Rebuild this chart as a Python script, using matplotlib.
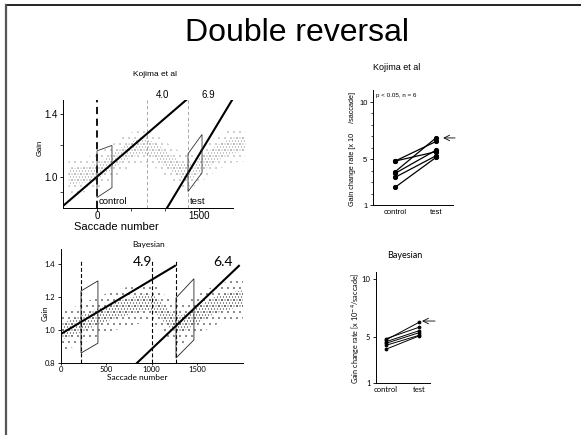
import numpy as np
import matplotlib as mpl
mpl.use('Agg')
from matplotlib import pyplot as plt
from matplotlib.lines import Line2D
from matplotlib.patches import Polygon

W, H = 581, 435
DPI = 72           # hatch tile = 72 px, so the stipple lands on whole pixels
S = 100 / DPI      # sizes below were picked for 100 dpi

# ---- Kojima et al, gain vs saccade number (top left)
koj_x = [-420, -200, 0, 200, 400, 650, 850, 1050, 1250, 1400, 1600, 1800, 2000, 2180]
koj_in_lo = [0.95, 0.96, 0.98, 1.04, 1.10, 1.15, 1.12, 1.05, 0.99, 0.99, 1.05, 1.11, 1.15, 1.16]
koj_in_hi = [1.05, 1.06, 1.08, 1.14, 1.20, 1.25, 1.22, 1.15, 1.09, 1.09, 1.15, 1.21, 1.25, 1.26]
koj_out_lo = [0.89, 0.90, 0.92, 0.98, 1.04, 1.09, 1.06, 0.99, 0.93, 0.93, 0.99, 1.05, 1.09, 1.10]
koj_out_hi = [1.11, 1.12, 1.14, 1.20, 1.26, 1.31, 1.28, 1.21, 1.15, 1.15, 1.21, 1.27, 1.31, 1.32]
koj_fit1 = ([-500, 1338], [0.813, 1.50])
koj_fit2 = ([1029, 2000], [0.80, 1.50])
koj_ctrl_box = ([0, 220, 220, 0], [0.867, 0.93, 1.20, 1.165])
koj_test_box = ([1338, 1544, 1544, 1338], [0.905, 1.025, 1.27, 1.146])
koj_rates = ['4.0', '6.9']

# ---- Bayesian, gain vs saccade number (bottom left)
bay_x = [0, 200, 400, 600, 800, 950, 1050, 1150, 1250, 1350, 1500, 1700, 1900, 2010]
bay_in_lo = [0.94, 0.98, 1.03, 1.07, 1.10, 1.12, 1.10, 1.04, 0.99, 0.99, 1.04, 1.10, 1.13, 1.14]
bay_in_hi = [1.04, 1.08, 1.13, 1.17, 1.20, 1.22, 1.20, 1.14, 1.09, 1.09, 1.14, 1.20, 1.23, 1.24]
bay_out_lo = [0.87, 0.91, 0.96, 1.00, 1.03, 1.05, 1.03, 0.97, 0.92, 0.92, 0.97, 1.03, 1.06, 1.07]
bay_out_hi = [1.11, 1.15, 1.20, 1.24, 1.27, 1.29, 1.27, 1.21, 1.16, 1.16, 1.21, 1.27, 1.30, 1.31]
bay_fit1 = ([0, 1258], [0.976, 1.388])
bay_fit2 = ([839, 1965], [0.80, 1.388])
bay_ctrl_box = ([221, 408, 408, 221], [0.86, 0.92, 1.297, 1.236])
bay_test_box = ([1270, 1468, 1468, 1270], [0.83, 0.94, 1.31, 1.194])
bay_rates = ['4.9', '6.4']

# ---- gain change rates, control vs test
koj_ctrl = [4.84, 4.84, 3.91, 3.77, 3.42, 2.55]
koj_test = [5.66, 6.56, 6.88, 5.80, 5.31, 5.17]
bay_ctrl = [4.83, 4.72, 4.57, 4.43, 4.26, 3.92]
bay_test = [5.82, 6.25, 5.52, 5.35, 5.12, 5.07]
conds = ['control', 'test']

HELV = 'Liberation Sans'
MYR = 'Lato'

plt.rcParams['hatch.linewidth'] = 0.55
fig = plt.figure(figsize=(W / DPI, H / DPI), dpi=DPI)


def box(l, t, r, b):
    return fig.add_axes([l / W, 1 - b / H, (r - l) / W, (b - t) / H])


def ftext(x, y, s, size, **kw):
    fig.text(x / W, 1 - y / H, s, fontsize=size * S, ha=kw.pop('ha', 'center'),
             va=kw.pop('va', 'center'), **kw)


def band(ax, x, lo, hi, color, hatch):
    # stippled band standing in for the scatter cloud
    xs = list(x) + list(x)[::-1]
    ys = list(lo) + list(hi)[::-1]
    ax.add_patch(Polygon(np.column_stack([xs, ys]), closed=True, facecolor='none',
                         edgecolor=color, lw=0, hatch=hatch, zorder=1))


def style(ax, fam, size):
    for s in ['top', 'right']:
        ax.spines[s].set_visible(False)
    for s in ['left', 'bottom']:
        ax.spines[s].set_linewidth(0.7 * S)
    ax.set_facecolor('none')
    ax.tick_params(direction='out', length=2.5 * S, width=0.6 * S, labelsize=size * S, pad=1.5 * S)
    for lab in ax.get_xticklabels() + ax.get_yticklabels():
        lab.set_family(fam)


def arrow(ax, x0, x1, y):
    ax.annotate('', xy=(x1, y), xytext=(x0, y), annotation_clip=False,
                arrowprops=dict(arrowstyle='->', lw=0.6 * S, color='k', shrinkA=0, shrinkB=0,
                                mutation_scale=10 * S))


# slide frame
fig.add_artist(Line2D([6 / W, 1], [1 - 5 / H, 1 - 5 / H], color='#222', lw=1.4 * S))
fig.add_artist(Line2D([6 / W, 6 / W], [0, 1 - 5 / H], color='#555', lw=1.6 * S))
ftext(297, 33, 'Double reversal', 23, family=HELV)

# ---------------- top left
ax = box(63, 100, 248, 208)
band(ax, koj_x, koj_out_lo, koj_out_hi, '#b8b8b8', '..')
band(ax, koj_x, koj_in_lo, koj_in_hi, '#9c9c9c', '....')
ax.axvline(0, color='k', lw=1.3 * S, ls=(0, (4, 2.5)), zorder=3)
ax.axvline(735, color='#999', lw=0.6 * S, ls=(0, (4, 3)), zorder=3)
ax.axvline(1338, color='#999', lw=0.6 * S, ls=(0, (4, 3)), zorder=3)
ax.plot(*koj_fit1, color='k', lw=1.5 * S, zorder=4)
ax.plot(*koj_fit2, color='k', lw=1.5 * S, zorder=4)
ax.fill(*koj_ctrl_box, facecolor='none', edgecolor='#333', lw=0.6 * S, zorder=4)
ax.fill(*koj_test_box, facecolor='none', edgecolor='#333', lw=0.6 * S, zorder=4)
ax.set_xlim(-500, 2220)
ax.set_ylim(0.8, 1.49)
ax.spines['bottom'].set_bounds(-500, 2000)
ax.set_xticks([0, 1500])
ax.set_xticks([500, 1000], minor=True)
ax.set_yticks([1.0, 1.4])
ax.set_yticks([0.9, 1.2], minor=True)
style(ax, HELV, 7)
ax.tick_params(which='minor', length=2 * S, width=0.5 * S)
ax.tick_params(axis='x', which='both', length=2 * S, pad=0.4 * S)
ax.text(20, 0.815, 'control', fontsize=6.8 * S, family=HELV, va='bottom', ha='left', zorder=5)
ax.text(1360, 0.815, 'test', fontsize=6.8 * S, family=HELV, va='bottom', ha='left', zorder=5)
ax.text(970, 1.52, koj_rates[0], fontsize=7 * S, family=HELV, ha='center', va='center', clip_on=False)
ax.text(1640, 1.52, koj_rates[1], fontsize=7 * S, family=HELV, ha='center', va='center', clip_on=False)
ftext(155, 75, 'Kojima et al', 6, family=HELV)
ftext(116, 227, 'Saccade number', 8, family=HELV)
ftext(40, 148, 'Gain', 5.5, family=HELV, rotation=90)

# ---------------- bottom left
ax = box(61, 249, 243, 363)
band(ax, bay_x, bay_out_lo, bay_out_hi, '#555', '..')
band(ax, bay_x, bay_in_lo, bay_in_hi, '#3a3a3a', '....')
for xv in [221, 1004, 1270]:
    ax.plot([xv, xv], [0.8, 1.42], color='k', lw=0.8 * S, ls=(0, (3.5, 2)), zorder=3)
ax.plot(*bay_fit1, color='k', lw=1.5 * S, zorder=4)
ax.plot(*bay_fit2, color='k', lw=1.5 * S, zorder=4)
ax.fill(*bay_ctrl_box, facecolor='none', edgecolor='#222', lw=0.6 * S, zorder=4)
ax.fill(*bay_test_box, facecolor='none', edgecolor='#222', lw=0.6 * S, zorder=4)
ax.set_xlim(0, 2010)
ax.set_ylim(0.8, 1.49)
ax.set_xticks([0, 500, 1000, 1500])
ax.set_yticks([0.8, 1.0, 1.2, 1.4])
ax.set_yticklabels(['0.8', '1.0', '1.2', '1.4'])
style(ax, MYR, 5.5)
ax.tick_params(axis='x', length=1.5 * S, pad=0.5 * S)
ax.text(900, 1.41, bay_rates[0], fontsize=10 * S, family=MYR, ha='center', va='center')
ax.text(1790, 1.41, bay_rates[1], fontsize=10 * S, family=MYR, ha='center', va='center')
ftext(149, 244, 'Bayesian', 6, family=MYR)
ftext(137, 377, 'Saccade number', 6, family=MYR)
ftext(45, 313, 'Gain', 5.5, family=MYR, rotation=90)

# ---------------- top right
ax = box(373, 90, 453, 205)
for c, t in zip(koj_ctrl, koj_test):
    ax.plot([0, 1], [c, t], color='k', lw=0.9 * S, marker='o', ms=3 * S, clip_on=False)
arrow(ax, 1.46, 1.17, 6.86)
ax.set_xlim(-0.54, 1.41)
ax.set_ylim(1, 11.05)
ax.set_xticks([0, 1])
ax.set_xticklabels(conds)
ax.set_yticks([1, 5, 10])
ax.set_yticks([2, 3, 4, 6, 7, 8, 9], minor=True)
style(ax, HELV, 5.5)
ax.tick_params(which='minor', length=1.5 * S, width=0.5 * S)
ax.tick_params(axis='x', length=0, pad=3 * S)
ax.text(-0.47, 10.8, 'p < 0.05, n = 6', fontsize=4.5 * S, family=HELV, ha='left', va='top')
ftext(397, 67, 'Kojima et al', 6.5, family=HELV)
ftext(352, 149, 'Gain change rate [x 10     /saccade]', 5.2, family=HELV, rotation=90)

# ---------------- bottom right
ax = box(376, 272, 430, 383)
for c, t in zip(bay_ctrl, bay_test):
    ax.plot([0, 1], [c, t], color='k', lw=0.7 * S, marker='o', ms=2 * S, clip_on=False)
arrow(ax, 1.48, 1.09, 6.36)
ax.set_xlim(-0.3, 1.33)
ax.set_ylim(1, 10.6)
ax.set_xticks([0, 1])
ax.set_xticklabels(conds)
ax.set_yticks([1, 5, 10])
style(ax, MYR, 5.5)
ax.tick_params(axis='x', length=0, pad=2 * S)
ftext(405, 255, 'Bayesian', 6.5, family=MYR)
ftext(355, 328, 'Gain change rate [x 10$^{-4}$/saccade]', 5.2, family=MYR, rotation=90)

fig.savefig('out.png', dpi=DPI)
